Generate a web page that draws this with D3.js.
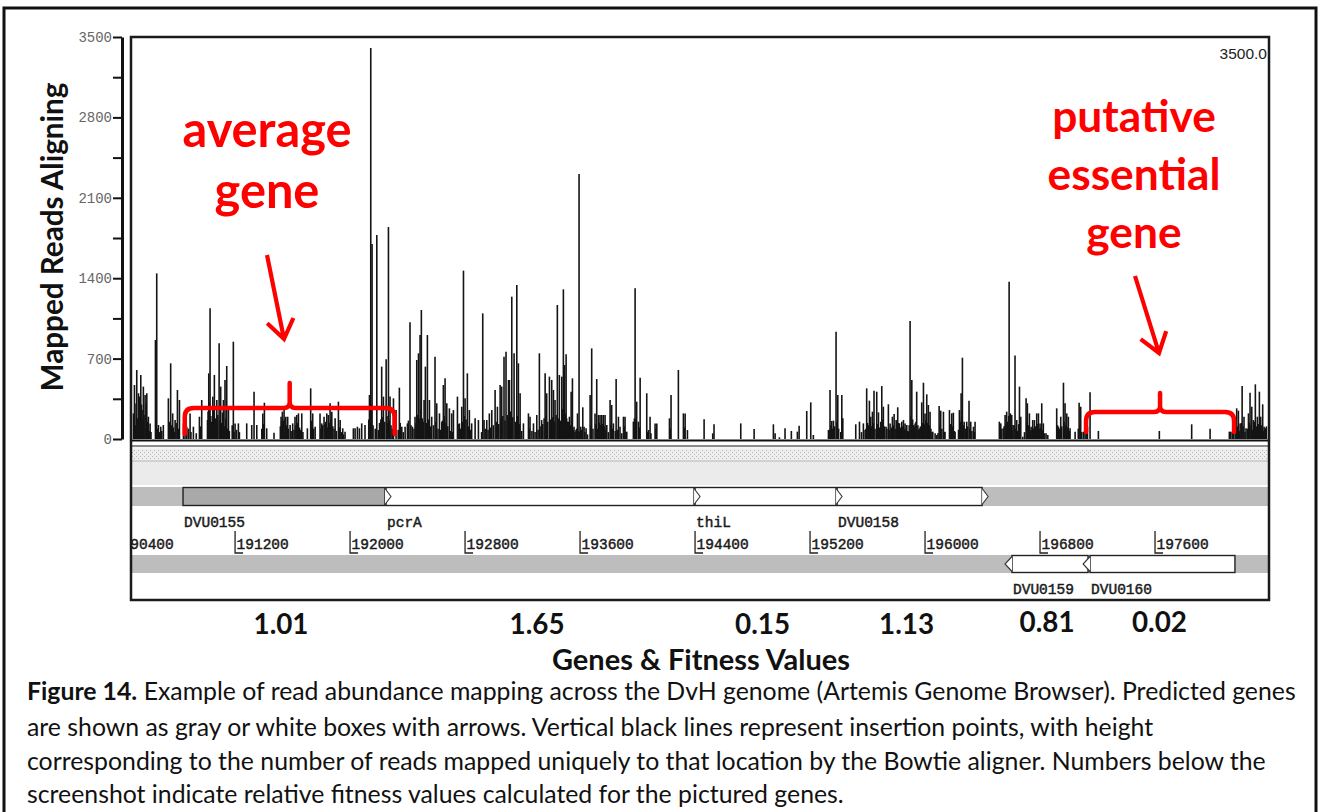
<!DOCTYPE html>
<html>
<head>
<meta charset="utf-8">
<script src="https://cdn.jsdelivr.net/npm/d3@7"></script>
<style>
  body { margin: 0; background: #fff; }
  svg { display: block; }
</style>
</head>
<body>
<svg id="fig" width="1324" height="812"></svg>
<script>
// ---- data -------------------------------------------------------------
const readTicks = [0, 700, 1400, 2100, 2800, 3500];
const minorReadTicks = [350, 1050, 1750, 2450, 3150];
const coordTicks = [190400, 191200, 192000, 192800, 193600, 194400, 195200, 196000, 196800, 197600];
const viewRange = [190476, 198379];          // genome window shown (bp)
const readMax = 3500;

const geneNames  = ["DVU0155", "pcrA", "thiL", "DVU0158", "DVU0159", "DVU0160"];
const geneStart  = [190838, 192250, 194400, 195388, 196605, 197148];
const geneEnd    = [192243, 194393, 195381, 196397, 197134, 198156];
const geneStrand = [1, 1, 1, 1, -1, -1];
const geneShade  = ["#a9a9a9", "#fff", "#fff", "#fff", "#fff", "#fff"];
const fitness    = ["1.01", "1.65", "0.15", "1.13", "0.81", "0.02"];

// insertion sites: [position (bp), uniquely mapped reads]
const insertions = [
  [190493,223],[190500,470],[190516,601],[190528,398],[190535,369],[190544,557],[190553,252],[190562,456],
  [190574,383],[190581,311],[190586,398],[190597,194],[190609,136],[190646,862],[190655,1442],[190667,122],
  [190683,107],[190701,122],[190736,354],[190752,659],[190766,223],[190783,165],[190799,427],[190813,340],
  [190841,136],[190864,107],[190887,223],[190910,107],[190952,194],[190968,340],[191008,165],[191017,572],
  [191026,1138],[191045,369],[191056,557],[191073,340],[191089,833],[191100,456],[191119,340],[191130,514],
  [191142,636],[191154,281],[191188,847],[191200,136],[191223,136],[191281,136],[191316,122],[191332,412],
  [191351,122],[191393,223],[191404,316],[191420,93],[191471,55],[191520,194],[191529,238],[191541,252],
  [191553,194],[191566,194],[191583,122],[191601,136],[191617,194],[191629,209],[191641,223],[191664,223],
  [191703,93],[191726,441],[191740,223],[191757,107],[191791,223],[191803,136],[191819,194],[191838,223],
  [191849,209],[191861,311],[191873,238],[191896,180],[191919,325],[191931,165],[191949,93],[191965,64],
  [192023,93],[192035,93],[192051,107],[192065,93],[192081,136],[192104,122],[192135,383],[192144,3404],
  [192153,1698],[192186,1776],[192197,78],[192220,630],[192232,369],[192251,694],[192267,1846],[192278,369],
  [192302,354],[192320,252],[192343,447],[192360,107],[192383,107],[192399,136],[192417,1016],[192434,107],
  [192452,194],[192464,688],[192476,746],[192487,905],[192496,1123],[192515,340],[192524,630],[192538,905],
  [192552,340],[192568,194],[192591,717],[192603,311],[192622,223],[192638,151],[192649,470],[192661,528],
  [192673,311],[192691,267],[192707,223],[192719,252],[192747,369],[192761,136],[192777,281],[192789,1466],
  [192800,354],[192816,572],[192830,252],[192846,136],[192870,180],[192893,165],[192923,1094],[192932,165],
  [192951,165],[192969,223],[192986,252],[193009,427],[193025,281],[193044,470],[193055,456],[193071,717],
  [193085,760],[193102,514],[193109,514],[193125,1239],[193141,746],[193160,1341],[193171,659],[193183,398],
  [193206,136],[193241,223],[193252,194],[193276,136],[193299,209],[193317,746],[193333,165],[193357,572],
  [193368,398],[193387,543],[193403,514],[193415,427],[193426,340],[193442,1167],[193456,557],
  [193473,543],[193484,1303],[193493,644],[193503,737],[193512,151],[193526,194],[193538,412],[193547,528],
  [193558,107],[193572,78],[193582,223],[193593,2307],[193605,107],[193619,276],[193628,107],[193642,93],
  [193670,383],[193681,789],[193704,223],[193716,522],[193728,209],[193739,209],[193751,209],[193762,209],
  [193774,209],[193786,122],[193809,340],[193820,296],[193832,136],[193851,522],[193867,194],[193878,107],
  [193902,194],[193913,194],[193925,64],[193971,151],[193983,1312],[193994,325],[194006,151],[194018,534],
  [194064,398],[194076,78],[194087,194],[194122,136],[194134,136],[194222,180],[194233,383],[194284,601],
  [194319,223],[194331,223],[194347,78],[194463,171],[194523,49],[194532,128],[194718,136],[194811,87],
  [194945,128],[194957,49],[194987,15],[195026,93],[195070,70],[195112,64],[195124,116],[195177,244],
  [195205,319],[195223,35],[195328,78],[195339,427],[195351,157],[195363,160],[195381,934],[195393,383],
  [195421,383],[195428,180],[195518,128],[195544,151],[195571,136],[195583,78],[195594,441],[195613,334],
  [195622,194],[195634,238],[195645,421],[195664,412],[195676,232],[195699,461],[195710,281],[195729,107],
  [195745,302],[195757,136],[195773,194],[195785,218],[195799,165],[195810,276],[195822,136],[195838,151],
  [195850,165],[195861,136],[195873,122],[195884,64],[195896,1027],[195908,514],[195919,122],[195931,136],
  [195942,412],[195961,93],[195977,319],[195989,490],[196000,223],[196012,389],[196023,296],[196035,238],
  [196054,64],[196070,49],[196082,35],[196098,287],[196109,247],[196128,238],[196139,64],[196170,252],
  [196186,223],[196197,229],[196209,64],[196239,252],[196251,398],[196260,708],[196272,151],[196290,151],
  [196306,334],[196318,151],[196337,107],[196348,151],[196517,151],
  [196527,136],[196545,93],[196557,209],[196568,238],[196578,136],[196585,1370],[196594,223],[196603,209],
  [196612,122],[196626,726],[196638,165],[196657,456],[196666,194],[196680,20],[196703,354],[196712,311],
  [196726,223],[196738,107],[196749,165],[196761,165],[196777,223],[196789,223],[196800,136],[196812,311],
  [196823,136],[196842,49],[196854,35],[196916,267],[196928,107],[196944,194],[196963,490],[196974,311],
  [196986,223],[196997,194],[197009,93],[197044,64],[197072,316],[197083,281],[197102,64],[197113,93],
  [197130,107],[197148,406],[197206,70],[197630,70],[197855,128],[197983,90],[198117,64],[198127,64],
  [198145,49],[198157,93],[198168,267],[198180,247],[198192,136],[198206,461],[198219,194],[198233,93],
  [198250,223],[198261,403],[198273,281],[198284,165],[198298,476],[198312,194],[198326,412],[198335,194],
  [198349,302],[198359,107],[198370,93]
];

// low-count sites that fill the dense stretches
const lowInsertions = [
  [190497,160],[190506,120],[190511,310],[190521,180],[190532,240],[190540,130],[190549,300],[190558,170],
  [190567,210],[190578,90],[190591,150],[190603,70],[190615,60],[190650,180],[190660,90],[190675,60],
  [190690,70],[190742,150],[190748,80],[190758,120],[190771,100],[190777,60],[190790,140],[190806,90],
  [190852,60],[190875,90],[190893,60],[190930,50],[190960,110],[191012,240],[191021,320],[191031,200],
  [191038,150],[191050,260],[191062,180],[191067,120],[191080,210],[191095,160],[191107,140],[191113,230],
  [191125,110],[191136,180],[191148,90],[191160,70],[191180,120],[191193,60],[191210,80],[191230,60],
  [191386,90],[191398,130],[191515,110],[191524,150],[191535,160],[191547,170],[191560,120],[191571,90],
  [191590,70],[191610,80],[191623,120],[191635,140],[191648,100],[191656,80],[191672,60],[191733,160],
  [191746,90],[191797,90],[191810,120],[191825,130],[191831,150],[191843,100],[191855,140],[191866,170],
  [191880,110],[191889,90],[191905,70],[191925,100],[191940,60],[191955,40],[192130,170],[192140,260],
  [192148,300],[192160,120],[192175,90],[192205,140],[192214,170],[192226,190],[192240,150],[192257,200],
  [192262,140],[192272,160],[192285,120],[192294,90],[192335,80],[192349,140],[192370,60],[192406,160],
  [192424,120],[192445,90],[192458,140],[192470,210],[192481,180],[192492,260],[192502,180],[192509,150],
  [192531,140],[192545,170],[192560,110],[192580,120],[192597,150],[192612,90],[192630,80],[192644,160],
  [192655,200],[192667,140],[192680,110],[192699,70],[192713,60],[192752,130],[192770,90],[192783,150],
  [192794,200],[192807,170],[192823,110],[192838,80],[192915,60],[192940,90],[192960,80],[192978,100],
  [192996,120],[193017,150],[193034,130],[193050,180],[193063,200],[193078,160],[193093,210],[193116,240],
  [193132,190],[193150,150],[193166,200],[193178,130],[193194,70],[193247,90],[193265,70],[193287,60],
  [193308,80],[193322,110],[193340,130],[193350,180],[193362,200],[193375,150],[193395,170],[193409,190],
  [193420,150],[193433,210],[193449,180],[193463,160],[193478,260],[193489,330],[193497,220],[193507,180],
  [193519,150],[193532,120],[193542,160],[193553,80],[193565,60],[193576,90],[193588,70],[193599,60],
  [193612,80],[193634,60],[193652,40],[193676,120],[193690,90],[193710,130],[193722,90],[193734,140],
  [193745,120],[193757,130],[193768,110],[193780,80],[193797,60],[193815,120],[193826,90],[193845,70],
  [193860,80],[193890,50],[193908,110],[193920,60],[193978,180],[193988,160],[194012,100],[194070,60],
  [194093,50],[194128,90],[194227,90],[194325,100],[195334,80],[195345,120],[195357,90],[195370,110],
  [195387,150],[195399,90],[195414,60],[195558,60],[195589,90],[195600,140],[195607,120],[195618,160],
  [195628,110],[195640,140],[195652,90],[195670,130],[195683,100],[195692,150],[195705,170],[195718,110],
  [195735,90],[195751,80],[195765,100],[195779,120],[195792,90],[195805,150],[195816,140],[195828,100],
  [195844,110],[195856,90],[195867,80],[195880,70],[195890,120],[195902,200],[195914,170],[195925,110],
  [195937,150],[195950,120],[195955,80],[195968,110],[195983,140],[195995,130],[196006,160],[196018,140],
  [196029,120],[196041,90],[196048,60],[196090,50],[196104,120],[196117,90],[196133,60],[196178,130],
  [196192,110],[196203,70],[196233,80],[196245,150],[196255,190],[196266,120],[196280,90],[196296,110],
  [196312,90],[196326,70],[196342,60],[196520,70],[196534,90],[196550,110],[196563,130],[196573,150],
  [196582,200],[196590,120],[196599,140],[196608,80],[196620,120],[196632,90],[196645,70],[196652,130],
  [196661,90],[196692,60],[196708,150],[196719,120],[196732,80],[196744,70],[196755,90],[196767,110],
  [196783,130],[196795,90],[196806,100],[196818,80],[196831,50],[196922,120],[196937,90],[196951,110],
  [196969,150],[196980,120],[196992,100],[197003,70],[197066,90],[197078,120],[197090,60],[197122,50],
  [198138,60],[198163,90],[198174,110],[198187,70],[198200,140],[198213,110],[198226,60],[198243,90],
  [198256,140],[198268,120],[198279,80],[198291,150],[198305,110],[198319,130],[198331,90],[198342,120],
  [198354,70],[198365,90],[198375,110]
];

// annotated regions (bp) and their labels
const calloutSpans  = [[190850, 192310], [197120, 198150]];
const calloutLabels = [["average", "gene"], ["putative", "essential", "gene"]];

const captionLines = [
  ["Figure 14.", " Example of read abundance mapping across the DvH genome (Artemis Genome Browser). Predicted genes"],
  ["", "are shown as gray or white boxes with arrows. Vertical black lines represent insertion points, with height"],
  ["", "corresponding to the number of reads mapped uniquely to that location by the Bowtie aligner. Numbers below the"],
  ["", "screenshot indicate relative fitness values calculated for the pictured genes."]
];

// ---- layout ------------------------------------------------------------
const svg = d3.select("#fig");
const P = { left: 131, right: 1269, top: 37, bottom: 600, base: 439 };
const sansBold = "Lato, 'Open Sans', 'DejaVu Sans', sans-serif";
const mono = "'Liberation Mono', 'DejaVu Sans Mono', monospace";
const RED = "#ff0000";

const x = d3.scaleLinear().domain(viewRange).range([P.left, 1267]);
const y = d3.scaleLinear().domain([0, readMax]).range([P.base, P.top]);

function fitText(sel, target) {
  const len = sel.node().getComputedTextLength();
  const fs = parseFloat(sel.attr("font-size"));
  if (len > 0) sel.attr("font-size", (fs * target / len).toFixed(2));
  return parseFloat(sel.attr("font-size"));
}

// outer figure frame
svg.append("rect")
  .attr("x", 4).attr("y", 8).attr("width", 1312).attr("height", 840)
  .attr("fill", "none").attr("stroke", "#111").attr("stroke-width", 3);

const defs = svg.append("defs");
defs.append("clipPath").attr("id", "panelClip")
  .append("rect").attr("x", P.left + 1).attr("y", P.top + 1)
  .attr("width", P.right - P.left - 2).attr("height", P.bottom - P.top - 2);

const dots = defs.append("pattern").attr("id", "dots")
  .attr("width", 4).attr("height", 4).attr("patternUnits", "userSpaceOnUse");
dots.append("rect").attr("width", 4).attr("height", 4).attr("fill", "#efefef");
dots.append("rect").attr("x", 0).attr("y", 0).attr("width", 1).attr("height", 1).attr("fill", "#b5b5b5");
dots.append("rect").attr("x", 2).attr("y", 2).attr("width", 1).attr("height", 1).attr("fill", "#b5b5b5");

// ---- Artemis panel -----------------------------------------------------
const panel = svg.append("g").attr("clip-path", "url(#panelClip)");
panel.append("rect").attr("x", P.left).attr("y", P.top)
  .attr("width", P.right - P.left).attr("height", P.bottom - P.top).attr("fill", "#fff");

// feature tracks beneath the read plot
const tracks = [
  { y0: 439.5, y1: 441.5, fill: "#111" },
  { y0: 445, y1: 447, fill: "#8c8c8c" },
  { y0: 447, y1: 449, fill: "#f3f3f3" },
  { y0: 449, y1: 460, fill: "url(#dots)" },
  { y0: 460, y1: 462, fill: "#d0d0d0" },
  { y0: 462, y1: 485, fill: "#ebebeb" },
  { y0: 487, y1: 506, fill: "#bdbdbd" },
  { y0: 555, y1: 573, fill: "#bdbdbd" }
];
panel.selectAll("rect.track").data(tracks).join("rect").attr("class", "track")
  .attr("x", P.left).attr("width", P.right - P.left)
  .attr("y", d => d.y0).attr("height", d => d.y1 - d.y0).attr("fill", d => d.fill);

// insertion read counts
const allSites = insertions.concat(lowInsertions);
panel.append("g").selectAll("line").data(allSites).join("line")
  .attr("x1", d => x(d[0])).attr("x2", d => x(d[0]))
  .attr("y1", y(0)).attr("y2", d => y(d[1]))
  .attr("stroke", "#141414").attr("stroke-width", 1.6);

// genes
const genes = geneNames.map((name, i) => ({
  name, start: geneStart[i], end: geneEnd[i], strand: geneStrand[i], shade: geneShade[i], fit: fitness[i]
}));
const rowY = s => s > 0 ? [487, 506] : [555, 573];

const geneG = panel.append("g");
geneG.selectAll("rect.gene").data(genes).join("rect").attr("class", "gene")
  .attr("x", d => x(d.start)).attr("width", d => x(d.end) - x(d.start))
  .attr("y", d => rowY(d.strand)[0] + 0.5).attr("height", d => rowY(d.strand)[1] - rowY(d.strand)[0] - 1)
  .attr("fill", d => d.shade).attr("stroke", "#222").attr("stroke-width", 1.4);
geneG.selectAll("path.head").data(genes).join("path").attr("class", "head")
  .attr("d", d => {
    const [a, b] = rowY(d.strand), m = (a + b) / 2;
    if (d.strand > 0) { const e = x(d.end); return `M${e},${a + 1.5} L${e + 6},${m} L${e},${b - 1.5}`; }
    const s = x(d.start); return `M${s},${a + 1.5} L${s - 7},${m} L${s},${b - 1.5}`;
  })
  .attr("fill", "#fff").attr("stroke", "#333").attr("stroke-width", 1.1);
geneG.selectAll("text.gname").data(genes).join("text").attr("class", "gname")
  .attr("x", d => x(d.start) + 1).attr("y", d => d.strand > 0 ? 527 : 594)
  .attr("font-family", mono).attr("font-size", 14.5).attr("fill", "#1a1a1a")
  .attr("stroke", "#1a1a1a").attr("stroke-width", 0.45)
  .text(d => d.name);

// base-pair ruler
const ruler = panel.append("g");
ruler.selectAll("path").data(coordTicks).join("path")
  .attr("d", d => `M${x(d)},531 V553 H${x(d) + 8}`)
  .attr("fill", "none").attr("stroke", "#222").attr("stroke-width", 1.3);
ruler.selectAll("text").data(coordTicks).join("text")
  .attr("x", d => x(d) + 1.5).attr("y", 549)
  .attr("font-family", mono).attr("font-size", 14.5).attr("fill", "#1a1a1a")
  .attr("stroke", "#1a1a1a").attr("stroke-width", 0.45)
  .text(d => d);

// panel border and max-value label
svg.append("rect").attr("x", P.left).attr("y", P.top)
  .attr("width", P.right - P.left).attr("height", P.bottom - P.top)
  .attr("fill", "none").attr("stroke", "#1a1a1a").attr("stroke-width", 2.5);
svg.append("text").attr("x", 1267).attr("y", 59).attr("text-anchor", "end")
  .attr("font-family", "'Liberation Sans', Arial, sans-serif").attr("font-size", 15.5).attr("fill", "#222")
  .text(readMax.toFixed(1));

// ---- read axis ---------------------------------------------------------
const yAxis = d3.axisLeft(y)
  .tickValues(readTicks.concat(minorReadTicks))
  .tickSize(9).tickSizeOuter(0).tickPadding(1)
  .tickFormat(d => readTicks.includes(d) ? d : "");
const yg = svg.append("g").attr("transform", "translate(122,0)").call(yAxis);
yg.select(".domain").attr("stroke", "#111").attr("stroke-width", 3);
yg.selectAll(".tick line").attr("stroke", "#111").attr("stroke-width", 2);
yg.selectAll(".tick text").attr("font-family", mono).attr("font-size", 14)
  .attr("fill", "#666");

const yTitle = svg.append("text")
  .attr("transform", "translate(63,237) rotate(-90)")
  .attr("text-anchor", "middle").attr("font-family", sansBold).attr("font-weight", 700)
  .attr("font-size", 28).attr("fill", "#111").text("Mapped Reads Aligning");
fitText(yTitle, 309);

// ---- call-outs -----------------------------------------------------------
function bracePath(x0, x1, yBar, yEnd, yPeak) {
  const xm = (x0 + x1) / 2, r = 9, s = 6;
  return `M${x0},${yEnd} L${x0},${yBar + r} Q${x0},${yBar} ${x0 + r},${yBar} L${xm - s},${yBar}` +
         ` Q${xm},${yBar} ${xm},${yBar - s} L${xm},${yPeak}` +
         ` M${xm},${yBar - s} Q${xm},${yBar} ${xm + s},${yBar} L${x1 - r},${yBar} Q${x1},${yBar} ${x1},${yBar + r} L${x1},${yEnd}`;
}
function arrowPath(x0, y0, x1, y1) {
  const a = Math.atan2(y0 - y1, x0 - x1), L = 23, t = 0.62;
  const p1 = [x1 + L * Math.cos(a + t), y1 + L * Math.sin(a + t)];
  const p2 = [x1 + L * Math.cos(a - t), y1 + L * Math.sin(a - t)];
  return `M${x0},${y0} L${x1},${y1} M${p1[0]},${p1[1]} L${x1},${y1} L${p2[0]},${p2[1]}`;
}
const callouts = [
  { span: calloutSpans[0], lines: calloutLabels[0], cx: 267, base: [147, 208], fitW: 169, fitIdx: 0,
    bar: 408, end: 434, peak: 383, arrow: [267, 255, 284, 339] },
  { span: calloutSpans[1], lines: calloutLabels[1], cx: 1134, base: [132, 190, 248], fitW: 173, fitIdx: 1,
    bar: 412, end: 432, peak: 393, arrow: [1135, 276, 1159, 353] }
];
callouts.forEach(c => {
  const x0 = x(c.span[0]), x1 = x(c.span[1]);
  svg.append("path").attr("d", bracePath(x0, x1, c.bar, c.end, c.peak))
    .attr("fill", "none").attr("stroke", RED).attr("stroke-width", 4.5)
    .attr("stroke-linecap", "round").attr("stroke-linejoin", "round");
  svg.append("path").attr("d", arrowPath(...c.arrow))
    .attr("fill", "none").attr("stroke", RED).attr("stroke-width", 4.2)
    .attr("stroke-linecap", "butt").attr("stroke-linejoin", "miter");
  const texts = c.lines.map((ln, i) => svg.append("text")
    .attr("x", c.cx).attr("y", c.base[i]).attr("text-anchor", "middle")
    .attr("font-family", sansBold).attr("font-weight", 700).attr("font-size", 48)
    .attr("fill", RED).text(ln));
  const fs = fitText(texts[c.fitIdx], c.fitW);
  texts.forEach(t => t.attr("font-size", fs));
});

// ---- fitness values & axis title ---------------------------------------
const fitTexts = svg.append("g").selectAll("text").data(genes).join("text")
  .attr("x", d => x((d.start + d.end) / 2) - 3).attr("y", d => d.strand > 0 ? 634 : 632)
  .attr("text-anchor", "middle").attr("font-family", sansBold).attr("font-weight", 700)
  .attr("font-size", 30).attr("fill", "#111").text(d => d.fit);
const fitSize = fitText(d3.select(fitTexts.nodes()[0]), 55);
fitTexts.attr("font-size", fitSize);

const xTitle = svg.append("text").attr("x", 701).attr("y", 670).attr("text-anchor", "middle")
  .attr("font-family", sansBold).attr("font-weight", 700).attr("font-size", 30)
  .attr("fill", "#111").text("Genes & Fitness Values");
fitText(xTitle, 298);

// ---- caption -----------------------------------------------------------
const capBase = [700, 736, 770, 803];
const capTexts = captionLines.map((parts, i) => {
  const t = svg.append("text").attr("x", 27).attr("y", capBase[i])
    .attr("font-family", "Lato, 'Open Sans', sans-serif").attr("font-size", 22).attr("fill", "#111");
  if (parts[0]) t.append("tspan").attr("font-weight", 700).text(parts[0]);
  t.append("tspan").text(parts[1]);
  return t;
});
const capSize = fitText(capTexts[0], 1269);
capTexts.forEach(t => t.attr("font-size", capSize));
</script>
</body>
</html>
